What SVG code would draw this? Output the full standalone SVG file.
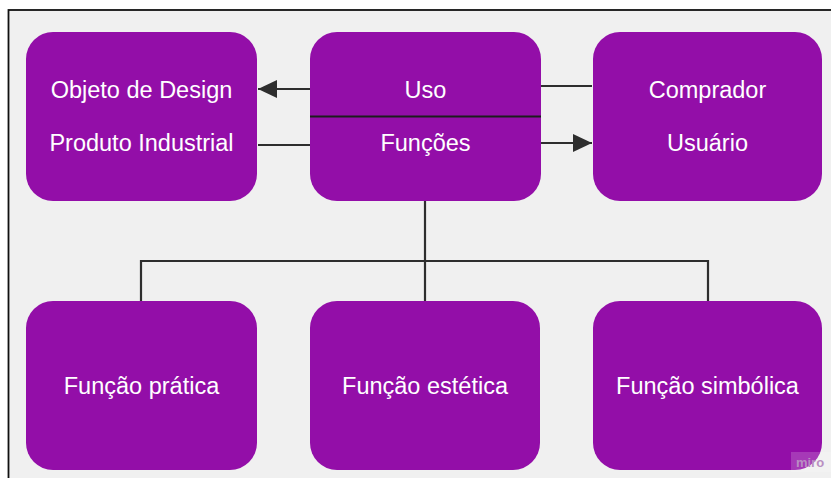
<svg xmlns="http://www.w3.org/2000/svg" width="831" height="478" viewBox="0 0 831 478">
  <defs>
    <style>
      .node { fill: #930ea8; }
      .label { fill: #ffffff; font-family: "Liberation Sans", Arial, sans-serif; font-size: 23.5px; text-anchor: middle; }
      .wire { stroke: #2e2e2e; stroke-width: 2.2; fill: none; }
      .divider { stroke: #1c1c1c; stroke-width: 2.2; }
    </style>
    <marker id="arrow" viewBox="0 0 19 18" refX="19" refY="9" markerWidth="19" markerHeight="18" markerUnits="userSpaceOnUse" orient="auto">
      <path d="M0,0 L19,9 L0,18 Z" fill="#2e2e2e"/>
    </marker>
  </defs>

  <!-- page and frame -->
  <rect x="0" y="0" width="831" height="478" fill="#ffffff"/>
  <rect x="8.5" y="10" width="840" height="490" fill="#f0f0f0" stroke="#111111" stroke-width="1.8"/>

  <!-- connectors -->
  <g id="connectors">
    <line class="wire" x1="310" y1="89" x2="258" y2="89" marker-end="url(#arrow)"/>
    <line class="wire" x1="258" y1="145" x2="310" y2="145"/>
    <line class="wire" x1="541" y1="86" x2="592" y2="86"/>
    <line class="wire" x1="541" y1="143" x2="592" y2="143" marker-end="url(#arrow)"/>
    <line class="wire" x1="425" y1="201" x2="425" y2="301"/>
    <polyline class="wire" points="141,301 141,261 708,261 708,301"/>
  </g>

  <!-- top row -->
  <g id="objeto">
    <rect class="node" x="26" y="32" width="231" height="169" rx="27"/>
    <text class="label" x="141.5" y="98">Objeto de Design</text>
    <text class="label" x="141.5" y="151">Produto Industrial</text>
  </g>
  <g id="uso">
    <rect class="node" x="310" y="32" width="231" height="169" rx="27"/>
    <line class="divider" x1="310" y1="116.5" x2="541" y2="116.5"/>
    <text class="label" x="425.5" y="98">Uso</text>
    <text class="label" x="425.5" y="151">Funções</text>
  </g>
  <g id="comprador">
    <rect class="node" x="593" y="32" width="229" height="169" rx="27"/>
    <text class="label" x="707.5" y="98">Comprador</text>
    <text class="label" x="707.5" y="151">Usuário</text>
  </g>

  <!-- bottom row -->
  <g id="funcao-pratica">
    <rect class="node" x="26" y="301" width="231" height="169" rx="27"/>
    <text class="label" x="141.5" y="393.5">Função prática</text>
  </g>
  <g id="funcao-estetica">
    <rect class="node" x="310" y="301" width="230" height="169" rx="27"/>
    <text class="label" x="425" y="393.5">Função estética</text>
  </g>
  <g id="funcao-simbolica">
    <rect class="node" x="593" y="301" width="229" height="169" rx="27"/>
    <text class="label" x="707.5" y="393.5">Função simbólica</text>
  </g>

  <!-- watermark -->
  <g id="watermark">
    <rect x="791" y="452" width="40" height="20" fill="#ffffff" fill-opacity="0.18"/>
    <text x="810" y="467" font-family="'Liberation Sans', Arial, sans-serif" font-size="13" font-weight="bold" fill="#b98fc2" text-anchor="middle">miro</text>
  </g>
</svg>
